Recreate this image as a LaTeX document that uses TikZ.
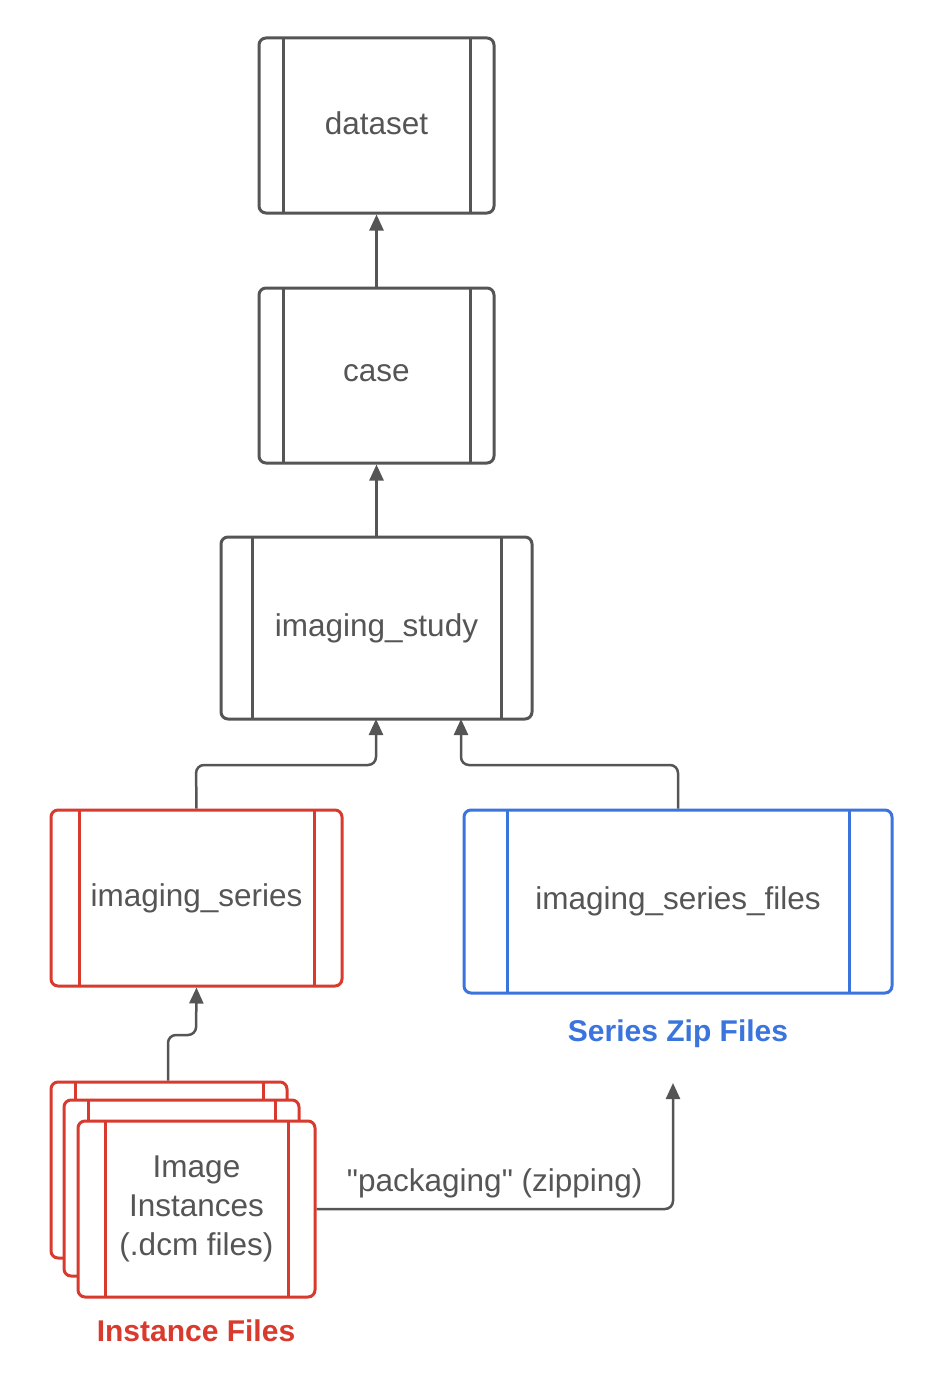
\documentclass[tikz,border=0pt]{standalone}
\usepackage{fontspec}
\setmainfont{Liberation Sans}
\newfontfamily\qf{Liberation Sans}[Ligatures=TeXOff]
\usetikzlibrary{arrows.meta}
\definecolor{gr}{HTML}{555555}
\definecolor{rd}{HTML}{D83A2E}
\definecolor{bl}{HTML}{3A74DC}
\begin{document}
\begin{tikzpicture}[x=1pt,y=-1pt,
 fnt/.style={font=\fontsize{31.5}{39}\selectfont},
 proc/.style={draw=#1, line width=3pt, rounded corners=7pt, fill=white, text=gr, inner sep=0pt,
   fnt, align=center},
 bar/.style 2 args={path picture={\draw[line width=3pt,#1] ([xshift=#2pt]path picture bounding box.north west) -- ([xshift=#2pt]path picture bounding box.south west) ([xshift=-#2pt]path picture bounding box.north east) -- ([xshift=-#2pt]path picture bounding box.south east);}},
 arr/.style={draw=gr, line width=2.5pt, rounded corners=8pt, -{Triangle[length=16pt,width=14pt]}}]
\useasboundingbox (0,0) rectangle (934,1386);
\node[proc=gr, bar={gr}{24}, minimum width=235pt, minimum height=175pt] (dataset) at (376.5,125.5) {\raisebox{4pt}{dataset}};
\node[proc=gr, bar={gr}{24}, minimum width=235pt, minimum height=175pt] (case) at (376.5,375.5) {\raisebox{4pt}{case}};
\node[proc=gr, bar={gr}{31}, minimum width=311pt, minimum height=182pt] (study) at (376.5,628) {\raisebox{3pt}{imaging\_study}};
\node[proc=rd, bar={rd}{28}, minimum width=291pt, minimum height=176pt] (series) at (196.5,898) {\raisebox{4pt}{imaging\_series}};
\node[proc=bl, bar={bl}{43}, minimum width=428pt, minimum height=183pt] (files) at (678,901.5) {\raisebox{4pt}{imaging\_series\_files}};
\node[proc=rd, bar={rd}{24}, minimum width=236pt, minimum height=176pt] (inst3) at (169,1170) {};
\node[proc=rd, bar={rd}{24}, minimum width=235pt, minimum height=176pt] (inst2) at (181.5,1188) {};
\node[proc=rd, bar={rd}{27}, minimum width=237pt, minimum height=176pt] (inst1) at (196.5,1209) {Image\\Instances\\(.dcm files)};
\node[text=rd, font=\fontsize{30}{36}\selectfont\bfseries] (lblI) at (196,1331) {Instance Files};
\node[text=bl, font=\fontsize{30}{36}\selectfont\bfseries] (lblS) at (678,1034) {Series Zip Files};
\coordinate (zipend) at (673,1083);
\draw[arr] (case.north) -- (dataset.south);
\draw[arr] (study.north) -- (case.south);
\draw[arr] (series.north) -- (196,765) -- (376,765) -- (376,719);
\draw[arr] (files.north) -- (678,765) -- (461,765) -- (461,719);
\draw[arr] (inst3.north -| 168,0) -- (168,1035) -- (196,1035) -- (series.south);
\draw[arr] (inst1.east) -- (673,1209) node[pos=0.5, above=6pt, text=gr, fnt]{\qf\symbol{34}packaging\symbol{34} (zipping)} -- (zipend);
\end{tikzpicture}
\end{document}
